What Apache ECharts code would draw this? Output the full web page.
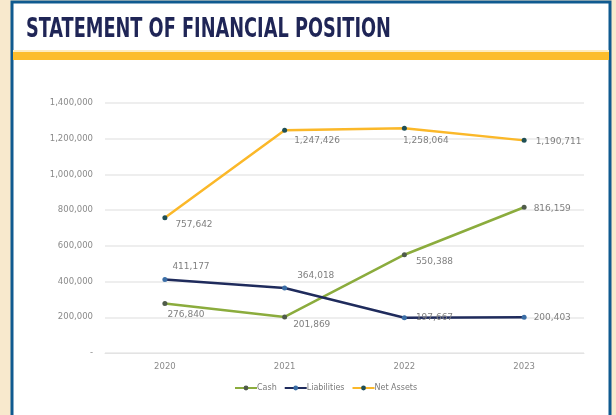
<!DOCTYPE html>
<html>
<head>
<meta charset="utf-8">
<script src="https://cdn.jsdelivr.net/npm/echarts@6/dist/echarts.min.js"></script>
<style>
  html, body { margin: 0; padding: 0; background: #f8e9cd; }
  #main { width: 616px; height: 415px; }
</style>
</head>
<body>
<div id="main"></div>
<script>
// data
var years = ['2020', '2021', '2022', '2023'];
var cash = [276840, 201869, 550388, 816159];
var liabilities = [411177, 364018, 197667, 200403];
var netAssets = [757642, 1247426, 1258064, 1190711];

// label nudges (px) so the numbers sit where the original puts them
var cashOffsets = [[-5, 11], [1, 8], [4, 7], [2, 1]];
var liabOffsets = [[0, -13], [5, -12], [4, 0], [2, 0]];
var netOffsets = [[3, 7], [2, 10], [-9, 12], [4, 1]];

var labelFont = 'DejaVu Sans';

function withLabels(values, offsets) {
  return values.map(function (v, i) {
    return {
      value: v,
      label: { offset: offsets[i] }
    };
  });
}

function fmt(n) {
  return n.toLocaleString('en-US');
}

var chart = echarts.init(document.getElementById('main'));

chart.setOption({
  backgroundColor: '#f8e9cd',
  animation: false,
  graphic: [
    // white card with blue frame
    { type: 'rect', shape: { x: 12, y: 2, width: 598, height: 420 },
      style: { fill: '#ffffff', stroke: '#0f5a90', lineWidth: 3 }, z: -10 },
    { type: 'rect', shape: { x: 13, y: 52, width: 596, height: 8 },
      style: { fill: '#fcbd2c' }, z: -5 },
    { type: 'rect', shape: { x: 13, y: 50, width: 596, height: 2 },
      style: { fill: '#fdecc0' }, z: -5 },
    { type: 'text', left: 26, top: 16, z: 5,
      scaleX: 0.73,
      style: { text: 'STATEMENT OF FINANCIAL POSITION', fill: '#1f2556',
               font: 'bold 27px "Liberation Sans Narrow", "DejaVu Sans Condensed", sans-serif' } }
  ],
  legend: {
    left: 229,
    top: 379,
    itemWidth: 22,
    itemHeight: 6,
    itemGap: 7,
    textStyle: { color: '#7a7a7a', fontSize: 8, fontFamily: labelFont, padding: [0, 0, 0, -5] },
    data: ['Cash', 'Liabilities', 'Net Assets']
  },
  grid: { left: 105, right: 32, top: 103, bottom: 62 },
  xAxis: {
    type: 'category',
    data: years,
    boundaryGap: true,
    axisLine: { show: true, lineStyle: { color: '#e3e3e3', width: 1 } },
    axisTick: { show: false },
    axisLabel: { color: '#8a8a8a', fontSize: 8.5, fontFamily: labelFont, margin: 9 }
  },
  yAxis: {
    type: 'value',
    min: 0,
    max: 1400000,
    interval: 200000,
    axisLine: { show: false },
    axisTick: { show: false },
    splitLine: { lineStyle: { color: '#e8e8e8', width: 1.5 } },
    axisLabel: {
      color: '#8a8a8a', fontSize: 8.5, fontFamily: labelFont, margin: 12,
      formatter: function (v) { return v === 0 ? '-' : fmt(v); }
    }
  },
  series: [
    {
      name: 'Cash',
      type: 'line',
      data: withLabels(cash, cashOffsets),
      symbol: 'circle',
      symbolSize: 5,
      lineStyle: { color: '#8bac3d', width: 2.5 },
      itemStyle: { color: '#4f5b4a' },
      label: { show: true, position: 'right', distance: 5, color: '#808080',
               fontSize: 9, fontFamily: labelFont, formatter: function (p) { return fmt(p.value); } }
    },
    {
      name: 'Liabilities',
      type: 'line',
      data: withLabels(liabilities, liabOffsets),
      symbol: 'circle',
      symbolSize: 5,
      z: 3,
      lineStyle: { color: '#1f2b5c', width: 2.5 },
      itemStyle: { color: '#3b6ea6' },
      label: { show: true, position: 'right', distance: 5, color: '#808080',
               fontSize: 9, fontFamily: labelFont, formatter: function (p) { return fmt(p.value); } }
    },
    {
      name: 'Net Assets',
      type: 'line',
      data: withLabels(netAssets, netOffsets),
      symbol: 'circle',
      symbolSize: 5,
      lineStyle: { color: '#fbb829', width: 2.5 },
      itemStyle: { color: '#1f4f55' },
      label: { show: true, position: 'right', distance: 5, color: '#808080',
               fontSize: 9, fontFamily: labelFont, formatter: function (p) { return fmt(p.value); } }
    }
  ]
});
</script>
</body>
</html>
